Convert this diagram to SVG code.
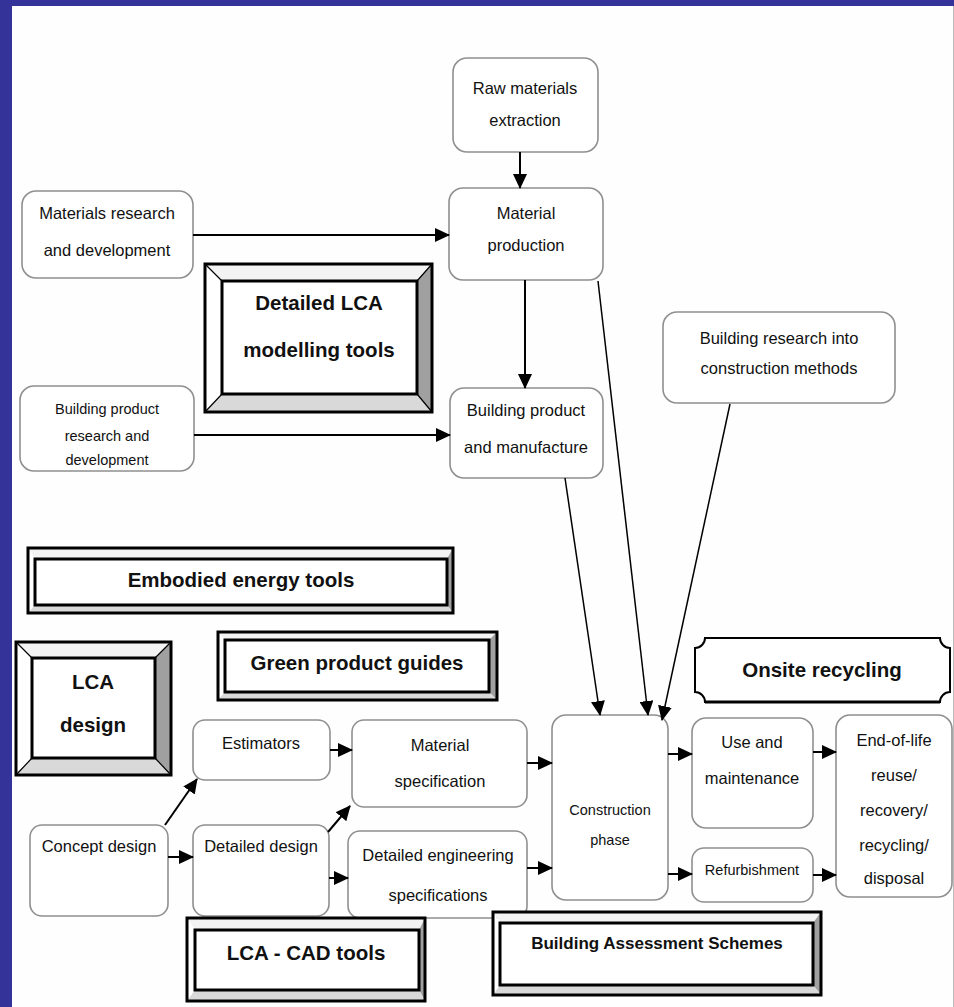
<svg xmlns="http://www.w3.org/2000/svg" width="954" height="1007" viewBox="0 0 954 1007">
<defs>
<style>
.n{fill:#fff;stroke:#8f8f8f;stroke-width:1.6}
.t{font-family:"Liberation Sans",Arial,sans-serif;font-size:16.5px;fill:#111;text-anchor:middle}
.s{font-size:14.5px}
.b{font-family:"Liberation Sans",Arial,sans-serif;font-weight:bold;font-size:20.5px;fill:#111;text-anchor:middle}
.c{stroke:#000;stroke-width:2;fill:none;marker-end:url(#ah)}
.c2{stroke:#000;stroke-width:1.5;fill:none;marker-end:url(#ah)}
.ob{fill:none;stroke:#000;stroke-width:3}
.ib{fill:#fff;stroke:#000;stroke-width:3}
.bt{fill:#f3f3f3}
.bl{fill:#fff}
.br{fill:#a0a0a0}
.bb{fill:#d9d9d9}
.dg{stroke:#000;stroke-width:1.2}
</style>
<marker id="ah" markerUnits="userSpaceOnUse" markerWidth="15" markerHeight="14" refX="14" refY="7" orient="auto"><path d="M0,0 L15,7 L0,14 Z" fill="#000"/></marker>
</defs>
<rect x="0" y="0" width="954" height="1007" fill="#fefefe"/>
<rect x="0" y="0" width="954" height="6" fill="#333399"/>
<rect x="0" y="0" width="12" height="1007" fill="#333399"/>
<line x1="953.5" y1="6" x2="953.5" y2="1007" stroke="#bbb" stroke-width="1"/>

<g id="raw"><rect class="n" x="453" y="58" width="145" height="94" rx="14"/><text class="t" x="525" y="94">Raw materials</text><text class="t" x="525" y="126">extraction</text></g>
<g id="matprod"><rect class="n" x="449" y="188" width="154" height="92" rx="14"/><text class="t" x="526" y="219">Material</text><text class="t" x="526" y="251">production</text></g>
<g id="matrd"><rect class="n" x="22" y="191" width="171" height="87" rx="14"/><text class="t" x="107" y="219">Materials research</text><text class="t" x="107" y="256">and development</text></g>
<g id="bprodrd"><rect class="n" x="20" y="386" width="174" height="85" rx="14"/><text class="t s" x="107" y="414">Building product</text><text class="t s" x="107" y="441">research and</text><text class="t s" x="107" y="465">development</text></g>
<g id="bprod"><rect class="n" x="450" y="388" width="153" height="90" rx="14"/><text class="t" x="526" y="416">Building product</text><text class="t" x="526" y="453">and manufacture</text></g>
<g id="bres"><rect class="n" x="663" y="312" width="232" height="91" rx="14"/><text class="t" x="779" y="344">Building research into</text><text class="t" x="779" y="374">construction methods</text></g>

<g id="dlca">
<polygon class="bt" points="205,264 432,264 417,281 222,281"/><polygon class="bl" points="205,264 222,281 222,394 205,412"/><polygon class="br" points="432,264 432,412 417,394 417,281"/><polygon class="bb" points="205,412 222,394 417,394 432,412"/>
<path class="dg" d="M205,264 L222,281 M432,264 L417,281 M205,412 L222,394 M432,412 L417,394"/>
<rect class="ib" x="222" y="281" width="195" height="113"/><rect class="ob" x="205" y="264" width="227" height="148"/>
<text class="b" x="319" y="310">Detailed LCA</text><text class="b" x="319" y="357">modelling tools</text></g>

<g id="emb">
<polygon class="bt" points="28,548 453,548 447,559 35,559"/><polygon class="bl" points="28,548 35,559 35,605 28,613"/><polygon class="br" points="453,548 453,613 447,605 447,559"/><polygon class="bb" points="28,613 35,605 447,605 453,613"/>
<rect class="ib" x="35" y="559" width="412" height="46"/><rect class="ob" x="28" y="548" width="425" height="65"/>
<text class="b" x="241" y="587">Embodied energy tools</text></g>

<g id="green">
<polygon class="bt" points="218,632 497,632 489,640 225,640"/><polygon class="bl" points="218,632 225,640 225,692 218,700"/><polygon class="br" points="497,632 497,700 489,692 489,640"/><polygon class="bb" points="218,700 225,692 489,692 497,700"/>
<rect class="ib" x="225" y="640" width="264" height="52"/><rect class="ob" x="218" y="632" width="279" height="68"/>
<text class="b" x="357" y="670">Green product guides</text></g>

<g id="lcad">
<polygon class="bt" points="16,642 171,642 155,658 32,658"/><polygon class="bl" points="16,642 32,658 32,758 16,775"/><polygon class="br" points="171,642 171,775 155,758 155,658"/><polygon class="bb" points="16,775 32,758 155,758 171,775"/>
<path class="dg" d="M16,642 L32,658 M171,642 L155,658 M16,775 L32,758 M171,775 L155,758"/>
<rect class="ib" x="32" y="658" width="123" height="100"/><rect class="ob" x="16" y="642" width="155" height="133"/>
<text class="b" x="93" y="689">LCA</text><text class="b" x="93" y="732">design</text></g>

<g id="onsite"><path d="M705,638 H940 A10,10 0 0 0 950,648 V692 A10,10 0 0 0 940,702 H705 A10,10 0 0 0 695,692 V648 A10,10 0 0 0 705,638 Z" fill="#fff" stroke="#000" stroke-width="2"/><path d="M705,702 H940" stroke="#000" stroke-width="3"/><text class="b" x="822" y="677">Onsite recycling</text></g>

<g id="est"><rect class="n" x="193" y="720" width="137" height="60" rx="12"/><text class="t" x="261" y="749">Estimators</text></g>
<g id="matspec"><rect class="n" x="352" y="720" width="175" height="87" rx="12"/><text class="t" x="440" y="751">Material</text><text class="t" x="440" y="787">specification</text></g>
<g id="concept"><rect class="n" x="30" y="825" width="138" height="91" rx="12"/><text class="t" x="99" y="852">Concept design</text></g>
<g id="detdes"><rect class="n" x="193" y="825" width="136" height="91" rx="12"/><text class="t" x="261" y="852">Detailed design</text></g>
<g id="deteng"><rect class="n" x="348" y="831" width="179" height="87" rx="12"/><text class="t" x="438" y="861">Detailed engineering</text><text class="t" x="438" y="901">specifications</text></g>
<g id="const"><rect class="n" x="552" y="715" width="116" height="185" rx="14"/><text class="t s" x="610" y="815">Construction</text><text class="t s" x="610" y="845">phase</text></g>
<g id="use"><rect class="n" x="692" y="718" width="121" height="110" rx="14"/><text class="t" x="752" y="748">Use and</text><text class="t" x="752" y="784">maintenance</text></g>
<g id="refurb"><rect class="n" x="692" y="848" width="121" height="54" rx="12"/><text class="t s" x="752" y="875">Refurbishment</text></g>
<g id="eol"><rect class="n" x="836" y="715" width="116" height="182" rx="14"/><text class="t" x="894" y="746">End-of-life</text><text class="t" x="894" y="781">reuse/</text><text class="t" x="894" y="816">recovery/</text><text class="t" x="894" y="851">recycling/</text><text class="t" x="894" y="884">disposal</text></g>

<g id="lcacad">
<polygon class="bt" points="187,918 425,918 419,930 195,930"/><polygon class="bl" points="187,918 195,930 195,990 187,1001"/><polygon class="br" points="425,918 425,1001 419,990 419,930"/><polygon class="bb" points="187,1001 195,990 419,990 425,1001"/>
<rect class="ib" x="195" y="930" width="224" height="60"/><rect class="ob" x="187" y="918" width="238" height="83"/>
<text class="b" x="306" y="960">LCA - CAD tools</text></g>

<g id="bas">
<polygon class="bt" points="493,912 821,912 813,923 500,923"/><polygon class="bl" points="493,912 500,923 500,985 493,995"/><polygon class="br" points="821,912 821,995 813,985 813,923"/><polygon class="bb" points="493,995 500,985 813,985 821,995"/>
<rect class="ib" x="500" y="923" width="313" height="62"/><rect class="ob" x="493" y="912" width="328" height="83"/>
<text class="b" x="657" y="949" style="font-size:17px">Building Assessment Schemes</text></g>

<g id="connectors">
<path class="c" d="M520,152 V188"/>
<path class="c" d="M193,235 H449"/>
<path class="c" d="M525,280 V388"/>
<path class="c" d="M194,435 H450"/>
<path class="c2" d="M598,281 L648,715"/>
<path class="c2" d="M565,478 L600,715"/>
<path class="c2" d="M730,404 L662,720"/>
<path class="c" d="M165,825 L197,779"/>
<path class="c" d="M168,857 H193"/>
<path class="c" d="M328,832 L350,806"/>
<path class="c" d="M329,878 H348"/>
<path class="c" d="M330,750 H352"/>
<path class="c" d="M527,763 H552"/>
<path class="c" d="M527,868 H552"/>
<path class="c" d="M668,754 H692"/>
<path class="c" d="M668,874 H692"/>
<path class="c" d="M813,752 H836"/>
<path class="c" d="M813,875 H836"/>
</g>
</svg>
